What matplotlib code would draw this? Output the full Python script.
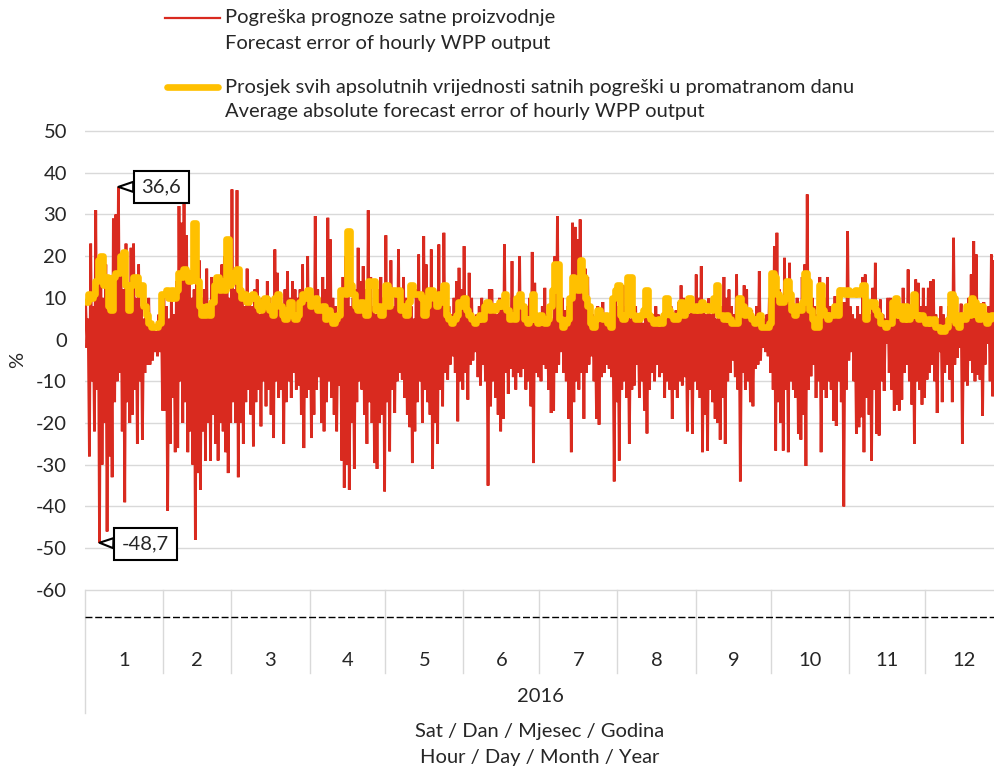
import numpy as np
import matplotlib
matplotlib.use('Agg')
import matplotlib.pyplot as plt
from matplotlib.lines import Line2D

plt.rcParams['font.family'] = ['Lato', 'DejaVu Sans']
plt.rcParams['axes.unicode_minus'] = False

# ---------------- data ----------------
month_labels = ['1', '2', '3', '4', '5', '6', '7', '8', '9', '10', '11', '12']
month_days = [31, 27, 31, 30, 31, 30, 31, 31, 30, 31, 30, 31]   # days present in the data set
year_label = '2016'
y_ticks = [-60, -50, -40, -30, -20, -10, 0, 10, 20, 30, 40, 50]

# daily highest / lowest hourly forecast error (%)
err_hi_01 = [9, 5, 23, 8, 31, 15, 20, 10, 18, 12, 8, 29, 30, 36.6, 20, 12, 23, 10, 22, 23, 10, 18, 8, 5, 6, 10, 4, 3, 2, 6, 8]
err_lo_01 = [-2, -28, -10, -22, -12, -48.7, -30, -20, -46, -28, -33, -15, -10, -8, -22, -39, -15, -20, -18, -12, -25, -10, -24, -8, -6, -6, -5, -3, -4, -3, -17]
err_hi_02 = [10, 8, 5, 12, 6, 14, 32, 28, 36, 25, 15, 10, 12, 20, 19, 10, 12, 17, 8, 15, 10, 14, 12, 18, 20, 13, 10]
err_lo_02 = [-17, -41, -25, -14, -27, -26, -10, -20, -15, -27, -22, -30, -48, -32, -36, -22, -29, -20, -29, -18, -25, -29, -20, -22, -27, -32, -20]
err_hi_03 = [36, 12, 35.8, 15, 10, 8, 17, 10, 8, 12, 14.4, 6, 10, 8, 14, 10, 7, 21.6, 16, 10, 8, 12, 16.4, 10, 14, 12, 10, 12, 18, 10, 20]
err_lo_03 = [-15, -20, -33, -20, -25, -15, -12, -18, -25.6, -15, -12, -20.8, -10, -16, -12, -18, -23.6, -10, -14, -12, -25, -15, -10, -14, -8, -12, -11, -18, -26, -14, -12]
err_hi_04 = [8, 8, 29.6, 12, 10, 15, 12, 29.2, 24, 10, 8, 6, 10, 15, 20, 26, 8, 10, 12, 22, 14, 17.6, 12, 31, 15, 8, 6, 12, 15, 10]
err_lo_04 = [-23.6, -18, -12, -9, -20, -22, -15, -10, -14, -18, -22, -11, -29, -35.5, -30, -36, -20, -31, -15, -10, -12, -18, -25, -15, -20, -29.6, -31, -20, -18, -36.4]
err_hi_05 = [25, 10, 19, 8, 12, 21.6, 10, 15, 10, 6, 8, 5, 12, 20.4, 10, 24.8, 18, 12, 21.6, 10, 8, 22.8, 10, 25.6, 12, 8, 6, 10, 14, 17.2, 12]
err_lo_05 = [-15, -26.8, -12, -17.6, -10, -8, -9.6, -14, -18, -21, -29.6, -22, -15, -10, -20, -12, -15, -18, -31, -20, -25, -12, -16, -8, -9.6, -6, -4, -8, -19.6, -10, -12]
err_hi_06 = [22.4, 8, 16, 10, 5, 6, 8, 10, 6, 8, 12, 12, 8, 6, 10, 8, 22.8, 10, 6, 18.8, 8, 6, 20, 10, 7, 8, 10, 21, 13.6, 6]
err_lo_06 = [-8, -14.4, -6, -5, -3, -9, -11, -6, -10, -35, -16, -10, -14, -18, -22, -19, -8, -13, -7, -9, -12, -8, -9, -7, -12, -10, -16, -29.6, -8, -9]
err_hi_07 = [5, 8, 12.4, 6, 8, 5, 20, 29.6, 12, 10, 7, 8, 10, 28, 27, 24, 28.8, 15, 17, 15, 8, 6, 5, 8, 6, 9, 5, 6, 4, 6, 12]
err_lo_07 = [-10, -6, -7, -12, -17.6, -17, -8, -6, -3, -8, -10, -19, -27, -15, -10, -12, -8, -19, -8, -6, -4, -10, -19, -20.4, -9, -8, -6, -7, -9, -34, -15]
err_hi_08 = [8, 10, 13, 8, 6, 5, 7, 8, 5, 6, 4, 6, 8, 5, 6, 8, 6, 4, 6, 9, 7, 8, 6, 7, 9, 13, 10, 7, 6, 8, 8]
err_lo_08 = [-29, -12, -10, -14, -25, -12, -11, -6, -14, -10, -17, -22.5, -12, -8, -10, -6, -9, -8, -14, -10, -12, -19, -12, -14, -10, -11, -9, -22, -12, -22.6, -10]
err_hi_09 = [15.6, 10, 17.6, 8, 6, 9.9, 6, 8, 5, 6, 8, 15, 10, 12, 8, 6, 15.6, 8, 6, 13, 12, 6, 7, 5, 8, 16.4, 4, 5, 6, 10]
err_lo_09 = [-12, -14, -27, -18, -26.6, -12, -15, -19, -20, -24, -14, -25, -10, -8, -5, -9, -12, -34, -8, -12, -10, -15, -16, -7, -6, -5, -2, -3, -4, -8]
err_hi_10 = [16, 22.4, 25.6, 12, 10, 19.6, 10, 18.4, 8, 6, 10, 8, 15, 18, 34.8, 12, 10, 8, 6, 15, 8, 10, 15, 8, 6, 10.4, 8, 12.4, 9, 9, 26]
err_lo_10 = [-12, -26.6, -15, -20, -26.6, -12, -27, -10, -12, -14, -22.6, -24, -18, -30.3, -12, -8.8, -6, -14, -10, -27, -12, -14, -10, -12, -19.5, -20.7, -10, -15, -40, -12, -5]
err_hi_11 = [8, 6, 5, 8, 6, 15, 15.6, 8, 6, 12.4, 18.4, 8, 9.6, 6, 5, 10, 10, 6, 7, 5, 8, 12.4, 6, 16.8, 8, 6, 14.4, 13.6, 8, 12.4]
err_lo_11 = [-3, -10, -22.6, -21, -18.6, -27, -14, -18, -29, -12, -22.6, -23, -10, -12.3, -1, -8, -12, -17, -15.6, -17, -14.4, -8, -6, -10, -15.6, -25, -10, -12, -15.6, -14]
err_hi_12 = [8, 12.4, 14, 14.4, 6, 5, 8, 6, 5, 8, 10, 24.4, 8, 5, 8.6, 6, 7, 10, 15.6, 23.6, 20.4, 6, 8.6, 9, 6, 8, 20.4, 19, 10, 6, 8]
err_lo_12 = [-9.6, -8, -6, -10, -17.6, -3, -15, -8, -6, -9.6, -15, -6, -4.4, -2, -25, -10, -11, -5, -8, -10, -8.4, -9.6, -18.3, -6, -1, -10, -13.6, -8, -8, -5, -6]

# daily average of absolute hourly errors (%)
avg_01 = [9, 11, 10, 11, 14, 19, 20, 13, 15, 8, 7, 15, 16, 16, 20, 21, 13, 7, 13, 15, 15, 11, 13, 8, 6, 4, 3, 3, 3, 4, 11]
avg_02 = [11, 12, 10, 12, 10, 12, 16, 15, 17, 16, 14, 16, 28, 14, 8, 6, 6, 8, 6, 9, 13, 15, 12, 14, 12, 24, 13]
avg_03 = [16, 14, 17, 12, 10, 11, 9, 10, 11, 10, 8, 7, 9, 10, 8, 7, 6, 10, 11, 8, 6, 5, 7, 9, 6, 5, 6, 9, 11, 10, 12]
avg_04 = [8, 9, 10, 7, 7, 8, 5, 7, 6, 4, 5, 6, 12, 12, 11, 26, 13, 11, 8, 7, 9, 7, 6, 14, 13, 14, 7, 8, 6, 8]
avg_05 = [13, 8, 12, 12, 11, 12, 7, 8, 6, 9, 13, 11, 11, 11, 10, 6, 8, 12, 12, 10, 8, 11, 9, 13, 6, 5, 4, 5, 6, 9, 8]
avg_06 = [10, 7, 6, 5, 4, 5, 6, 5, 8, 9, 7, 8, 7, 8, 9, 8, 11, 7, 5, 6, 5, 10, 11, 8, 5, 4, 5, 11, 5, 4]
avg_07 = [6, 5, 4, 5, 8, 12, 18, 18, 5, 3, 4, 5, 10, 15, 14, 12, 19, 15, 10, 8, 4, 3, 5, 7, 6, 5, 6, 4, 3, 10, 12]
avg_08 = [13, 6, 5, 6, 15, 15, 6, 5, 5, 6, 7, 12, 6, 5, 4, 4, 5, 4, 6, 10, 7, 6, 5, 5, 6, 9, 6, 7, 10, 8, 7]
avg_09 = [8, 7, 9, 8, 7, 8, 7, 10, 13, 6, 6, 5, 6, 5, 4, 4, 4, 10, 8, 6, 7, 6, 5, 4, 5, 6, 3, 3, 3, 4]
avg_10 = [16, 15, 11, 9, 9, 10, 14, 11, 7, 6, 8, 7, 9, 16, 14, 7, 5, 3, 3, 13, 7, 6, 5, 6, 6, 8, 6, 12, 12, 11, 12]
avg_11 = [11, 11, 12, 11, 12, 13, 5, 9, 8, 9, 7, 6, 4, 4, 3, 4, 4, 9, 10, 6, 8, 5, 8, 5, 6, 11, 6, 5, 6, 5]
avg_12 = [4, 5, 4, 5, 3, 3, 2, 2, 3, 5, 11, 10, 4, 3, 6, 5, 8, 6, 10, 9, 6, 5, 8, 6, 4, 5, 6, 6, 6, 5, 5]

legend_red = 'Pogreška prognoze satne proizvodnje\nForecast error of hourly WPP output'
legend_yel = ('Prosjek svih apsolutnih vrijednosti satnih pogreški u promatranom danu\n'
              'Average absolute forecast error of hourly WPP output')
x_title_1 = 'Sat / Dan / Mjesec / Godina'
x_title_2 = 'Hour / Day / Month / Year'
y_title = '%'

# ---------------- assemble ----------------
err_hi = np.concatenate([err_hi_01, err_hi_02, err_hi_03, err_hi_04, err_hi_05, err_hi_06,
                         err_hi_07, err_hi_08, err_hi_09, err_hi_10, err_hi_11, err_hi_12])
err_lo = np.concatenate([err_lo_01, err_lo_02, err_lo_03, err_lo_04, err_lo_05, err_lo_06,
                         err_lo_07, err_lo_08, err_lo_09, err_lo_10, err_lo_11, err_lo_12])
avg = np.concatenate([avg_01, avg_02, avg_03, avg_04, avg_05, avg_06,
                      avg_07, avg_08, avg_09, avg_10, avg_11, avg_12])
n = len(avg)
day = np.arange(n)
x_err = np.column_stack([day + 0.25, day + 0.75]).ravel()
y_err = np.column_stack([err_hi, err_lo]).ravel()

RED = '#D92A1F'
YEL = '#FFC000'
TXT = '#262626'
GRID = '#D9D9D9'
FS = 14.5

W, H = 995, 767
fig = plt.figure(figsize=(W / 100, H / 100), dpi=100)

total_days = sum(month_days)
ax_left, ax_bottom_px, ax_top_px = 85, 617, 126.8
px_per_day = 2.523
ax_w_px = total_days * px_per_day
ax = fig.add_axes([ax_left / W, 1 - ax_bottom_px / H, ax_w_px / W, (ax_bottom_px - ax_top_px) / H])
ax.set_xlim(0, total_days)
ax.set_ylim(-66.5, 51)

ax.set_yticks(y_ticks)
ax.set_yticklabels([str(t) for t in y_ticks])
ax.tick_params(axis='y', length=0, pad=13, labelsize=FS, labelcolor=TXT)
ax.set_xticks([])
for s in ax.spines.values():
    s.set_visible(False)
ax.yaxis.grid(True, color=GRID, lw=1.0)
ax.set_axisbelow(True)

ax.plot(x_err, y_err, color=RED, lw=2.0, zorder=2, solid_joinstyle='miter')
ax.plot(day + 0.5, avg, color=YEL, lw=4.8, drawstyle='steps-mid',
        solid_joinstyle='round', solid_capstyle='round', zorder=3)

# dashed horizontal axis line
ax.axhline(-66.5, color='black', lw=1.0, ls=(0, (5, 2)), clip_on=False, zorder=4)

# month category separators and labels
trans = ax.get_xaxis_transform()
ax_h_px = ax_bottom_px - ax_top_px
def yfrac(py):
    return (ax_bottom_px - py) / ax_h_px
y_grid60 = yfrac(590)
bounds = np.concatenate([[0], np.cumsum(month_days)])
for i, b in enumerate(bounds):
    ybot = yfrac(713) if i == 0 else yfrac(673)
    ax.plot([b, b], [y_grid60, ybot], transform=trans, color=GRID, lw=1.0, clip_on=False, zorder=1)
for i, lab in enumerate(month_labels):
    c = (bounds[i] + bounds[i + 1]) / 2
    ax.text(c, yfrac(660), lab, transform=trans, ha='center', va='center', fontsize=FS, color=TXT)
fig.text(540 / W, 1 - 697 / H, year_label, ha='center', va='center', fontsize=FS, color=TXT)
fig.text(540 / W, 1 - 732 / H, x_title_1, ha='center', va='center', fontsize=FS, color=TXT)
fig.text(540 / W, 1 - 757 / H, x_title_2, ha='center', va='center', fontsize=FS, color=TXT)
fig.text(18 / W, 1 - 360 / H, y_title, ha='center', va='center', rotation=90, fontsize=FS, color=TXT)

# callouts for extremes
imax = int(np.argmax(y_err))
imin = int(np.argmin(y_err))
for idx, off in [(imax, (31, 0)), (imin, (33, -1))]:
    val = y_err[idx]
    ax.annotate(f'{val:.1f}'.replace('.', ','), xy=(x_err[idx], val), xytext=off,
                textcoords='offset points', ha='center', va='center', fontsize=FS, color=TXT,
                bbox=dict(boxstyle='square,pad=0.38', fc='white', ec='black', lw=1.5),
                arrowprops=dict(arrowstyle='wedge,tail_width=0.5,shrink_factor=0.5',
                                fc='white', ec='black', lw=1.5, shrinkA=0, shrinkB=0),
                zorder=6, annotation_clip=False)

# legend (drawn manually)
fig.add_artist(Line2D([165 / W, 220 / W], [1 - 18 / H, 1 - 18 / H], color=RED, lw=1.6))
fig.add_artist(Line2D([167 / W, 218 / W], [1 - 87 / H, 1 - 87 / H], color=YEL, lw=4.8,
                      solid_capstyle='round'))
for py, line in [(18, legend_red.split('\n')[0]), (43, legend_red.split('\n')[1]),
                 (87, legend_yel.split('\n')[0]), (111, legend_yel.split('\n')[1])]:
    fig.text(225 / W, 1 - py / H, line, ha='left', va='center', fontsize=FS, color=TXT)

fig.savefig('out.png', dpi=100)
